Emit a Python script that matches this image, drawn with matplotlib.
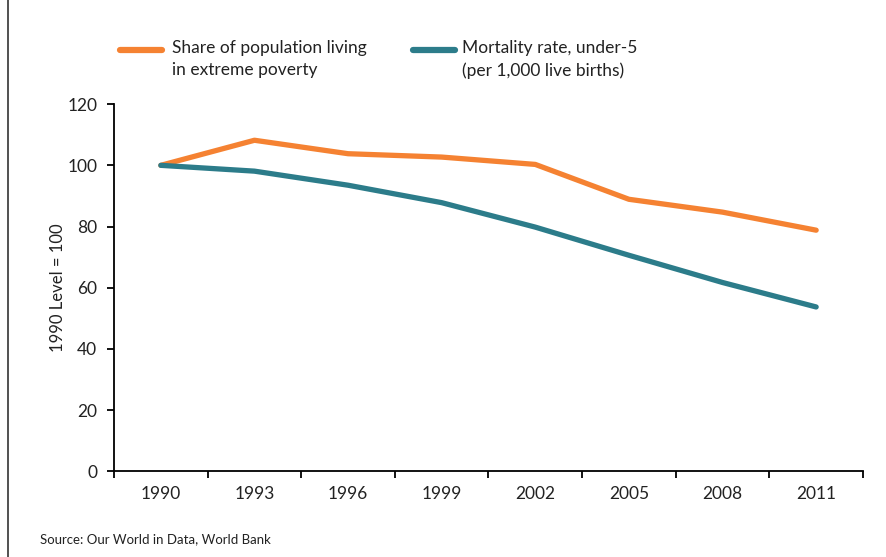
import numpy as np
import matplotlib.pyplot as plt
from matplotlib.lines import Line2D

plt.rcParams['font.family'] = ['Lato', 'DejaVu Sans']

years = ["1990", "1993", "1996", "1999", "2002", "2005", "2008", "2011"]
poverty = [100.0, 108.2, 103.8, 102.7, 100.3, 88.9, 84.7, 78.8]
mortality = [100.0, 98.1, 93.5, 87.8, 79.8, 70.6, 61.7, 53.7]

orange = "#F58232"
teal = "#2C7C8A"
txt = "#222222"

fig = plt.figure(figsize=(8.86, 5.57), dpi=100)
ax = fig.add_axes([0.1287, 0.154, 0.8453, 0.659])

x = np.arange(len(years))
ax.plot(x, poverty, color=orange, lw=3.8, solid_capstyle="round", solid_joinstyle="round")
ax.plot(x, mortality, color=teal, lw=3.8, solid_capstyle="round", solid_joinstyle="round")

ax.set_xlim(-0.5, len(years) - 0.5)
ax.set_ylim(0, 120)
ax.set_yticks(range(0, 121, 20))
ax.set_xticks(x)
ax.set_xticklabels(years)
ax.set_xticks(np.arange(-0.5, len(years)), minor=True)
ax.tick_params(axis="x", which="major", length=0, pad=11, labelsize=12.5, colors=txt)
ax.tick_params(axis="x", which="minor", length=5, width=1.3, direction="out")
ax.tick_params(axis="y", length=5, width=1.3, pad=7, labelsize=12.5, colors=txt)
ax.tick_params(axis="both", which="both", color="black")

for s in ["top", "right"]:
    ax.spines[s].set_visible(False)
for s in ["left", "bottom"]:
    ax.spines[s].set_linewidth(1.3)

ax.set_ylabel("1990 Level = 100", fontsize=12, color=txt, labelpad=1)

# legend drawn by hand in figure coords
fig.add_artist(Line2D([120/886, 162/886], [1-50/557, 1-50/557], color=orange, lw=4.5,
                      solid_capstyle="round", transform=fig.transFigure))
fig.add_artist(Line2D([413/886, 455/886], [1-50/557, 1-50/557], color=teal, lw=4.5,
                      solid_capstyle="round", transform=fig.transFigure))
fig.text(172/886, 1-40/557, "Share of population living\nin extreme poverty", fontsize=12.5,
         va="top", ha="left", color=txt, linespacing=1.5)
fig.text(462/886, 1-40/557, "Mortality rate, under-5\n(per 1,000 live births)", fontsize=12.5,
         va="top", ha="left", color=txt, linespacing=1.5)

fig.text(40/886, 1-539/557, "Source: Our World in Data, World Bank", fontsize=9.5,
         va="center", ha="left", color=txt)

# left frame line
fig.add_artist(Line2D([8/886, 8/886], [0, 1], color="#333333", lw=1.2, transform=fig.transFigure))

fig.savefig("out.png", dpi=100)
